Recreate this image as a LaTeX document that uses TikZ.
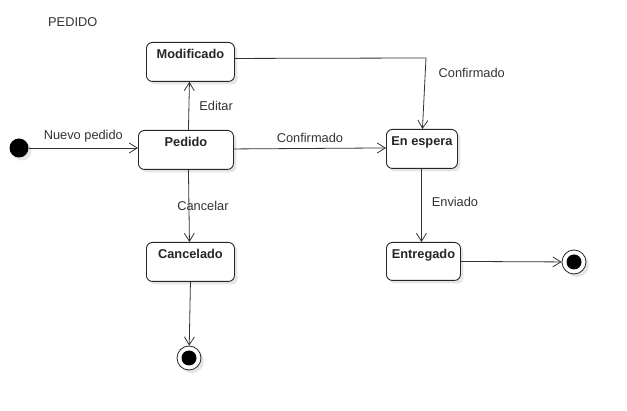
\documentclass[tikz,border=0pt]{standalone}
\usepackage{fontspec}
\setmainfont{Liberation Sans}
\usetikzlibrary{arrows.meta,shadows}
\definecolor{ln}{HTML}{333333}
\tikzset{
  x=1pt, y=-1pt,
  sh/.style={drop shadow={shadow xshift=3pt, shadow yshift=-3pt, fill=black!10, opacity=1}},
  state/.style={draw=black!85, line width=0.9pt, rounded corners=6pt, fill=white, sh,
    anchor=north west, inner sep=0pt},
  stlab/.style={font=\fontsize{12.8}{14}\selectfont\bfseries, text=black!85, anchor=north, inner sep=0pt, yshift=-7pt},
  tr/.style={draw=ln, line width=0.8pt, -{Straight Barb[length=8pt,width=10pt,line width=0.8pt]}},
  lab/.style={font=\fontsize{12.8}{14}\selectfont, text=black!80, inner sep=1pt},
}
\begin{document}
\begin{tikzpicture}
\useasboundingbox[fill=white] (0,0) rectangle (627,411);

\node[lab, anchor=west] (title) at (47,22) {PEDIDO};

% states
\node[state, minimum width=88pt, minimum height=39pt] (modif) at (146,42) {};
\node[stlab] (modiflab) at (modif.north) {Modificado};
\node[state, minimum width=95pt, minimum height=39pt] (pedido) at (138,130) {};
\node[stlab] (pedidolab) at (pedido.north) {Pedido};
\node[state, minimum width=71pt, minimum height=39pt] (espera) at (386,129) {};
\node[stlab] (esperalab) at (espera.north) {En espera};
\node[state, minimum width=74pt, minimum height=38pt] (entreg) at (386,242) {};
\node[stlab] (entreglab) at (entreg.north) {Entregado};
\node[state, minimum width=88pt, minimum height=39pt] (cancel) at (146,242) {};
\node[stlab] (cancellab) at (cancel.north) {Cancelado};

% initial and final states
\node[circle, fill=black, minimum size=19pt, inner sep=0pt, sh] (init) at (19,148) {};
\node[circle, draw=black!85, line width=0.8pt, fill=white, minimum size=24pt, inner sep=0pt, sh] (fin1) at (574,262) {};
\node[circle, fill=black, minimum size=15pt, inner sep=0pt] (fin1in) at (fin1) {};
\node[circle, draw=black!85, line width=0.8pt, fill=white, minimum size=24pt, inner sep=0pt, sh] (fin2) at (189,358) {};
\node[circle, fill=black, minimum size=15pt, inner sep=0pt] (fin2in) at (fin2) {};

\coordinate (corner) at (426,58);

% transitions
\draw[tr] (init) -- node[lab, above=4pt] {Nuevo pedido} (pedido.west |- init);
\draw[tr] ([xshift=2.5pt]pedido.north) -- node[lab, right=9pt] {Editar} ([xshift=-1pt]modif.south);
\draw[tr] ([yshift=1pt]pedido.east) -- node[lab, above=4pt] {Confirmado} ([yshift=1pt]espera.west);
\draw[tr] ([yshift=3.5pt]modif.east) -- (corner) -- node[lab, pos=0.21, right=12pt] {Confirmado} ([xshift=0.5pt]espera.north);
\draw[tr] ([xshift=-0.5pt]espera.south) -- node[lab, pos=0.45, right=9pt] {Enviado} ([xshift=-2pt]entreg.north);
\draw[tr] ([xshift=2.5pt]pedido.south) -- node[lab, xshift=14pt] {Cancelar} ([xshift=-1pt]cancel.north);
\draw[tr] ([yshift=0pt]entreg.east) -- (fin1);
\draw[tr] (cancel.south) -- (fin2);
\end{tikzpicture}
\end{document}
